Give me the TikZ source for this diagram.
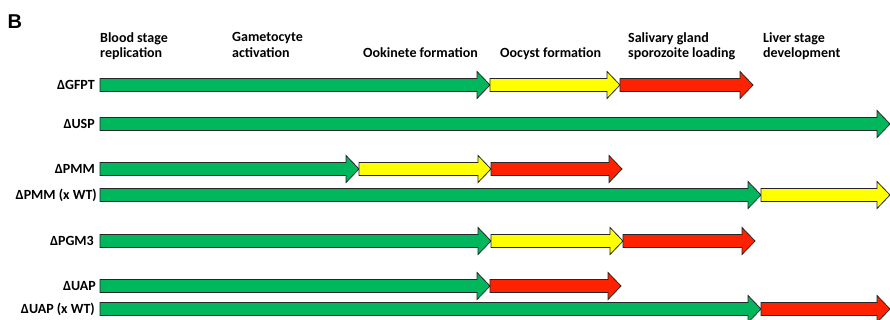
\documentclass[tikz,border=0pt]{standalone}
\usepackage{fontspec}
\setmainfont{Carlito}
\newfontfamily\panelfont{Liberation Sans}

\definecolor{stagegreen}{RGB}{0,183,94}
\definecolor{stageyellow}{RGB}{255,255,0}
\definecolor{stagered}{RGB}{255,34,0}

\tikzstyle{panel} = [anchor=base west, inner sep=0pt, font=\panelfont\fontsize{20}{20}\selectfont\bfseries]
\tikzstyle{stagetitle} = [anchor=north west, align=left, inner sep=0pt, font=\fontsize{14}{15.5}\selectfont\bfseries]
\tikzstyle{linename} = [anchor=base east, inner sep=0pt, font=\fontsize{14}{15.5}\selectfont\bfseries]
\tikzstyle{stagebar} = [draw=black!85, line width=0.8pt, line join=miter]

% colour, start, tip, row
\newcommand{\stagearrow}[4]{%
  \filldraw[stagebar, fill=#1] (#2,#4-6.5) -- (#3-13,#4-6.5) -- (#3-13,#4-13.5) -- (#3,#4)
    -- (#3-13,#4+13.5) -- (#3-13,#4+6.5) -- (#2,#4+6.5) -- cycle;}

\begin{document}
\begin{tikzpicture}[x=1pt, y=-1pt]
\useasboundingbox (0,0) rectangle (890,320);
\node[panel] (panelB) at (7.5,28.5) {B};

% stage headings
\node[stagetitle] (blood) at (100,32.4) {Blood stage\\replication};
\node[stagetitle] (gameto) at (232,32.4) {Gametocyte\\activation};
\node[stagetitle] (ookinete) at (363,47.9) {Ookinete formation};
\node[stagetitle] (oocyst) at (500,47.9) {Oocyst formation};
\node[stagetitle] (salivary) at (628,32.4) {Salivary gland\\sporozoite loading};
\node[stagetitle] (liver) at (763,32.4) {Liver stage\\development};

% parasite lines
\node[linename] (gfpt) at (95,89.5) {ΔGFPT};
\node[linename] (usp) at (95,128.5) {ΔUSP};
\node[linename] (pmm) at (95,173.5) {ΔPMM};
\node[linename] (pmmwt) at (97,199.5) {ΔPMM (x WT)};
\node[linename] (pgm) at (94,245.5) {ΔPGM3};
\node[linename] (uap) at (96,290.5) {ΔUAP};
\node[linename] (uapwt) at (95,313.5) {ΔUAP (x WT)};

% progression arrows
\stagearrow{stagegreen}{100}{490}{85}
\stagearrow{stageyellow}{490}{620}{85}
\stagearrow{stagered}{620}{753}{85}

\stagearrow{stagegreen}{100}{890}{124}

\stagearrow{stagegreen}{100}{359}{169}
\stagearrow{stageyellow}{359}{491}{169}
\stagearrow{stagered}{491}{622}{169}

\stagearrow{stagegreen}{100}{761}{195}
\stagearrow{stageyellow}{761}{890}{195}

\stagearrow{stagegreen}{100}{491}{241}
\stagearrow{stageyellow}{491}{623}{241}
\stagearrow{stagered}{623}{755}{241}

\stagearrow{stagegreen}{100}{490}{286}
\stagearrow{stagered}{490}{621}{286}

\stagearrow{stagegreen}{100}{761}{309}
\stagearrow{stagered}{761}{890}{309}
\end{tikzpicture}
\end{document}
